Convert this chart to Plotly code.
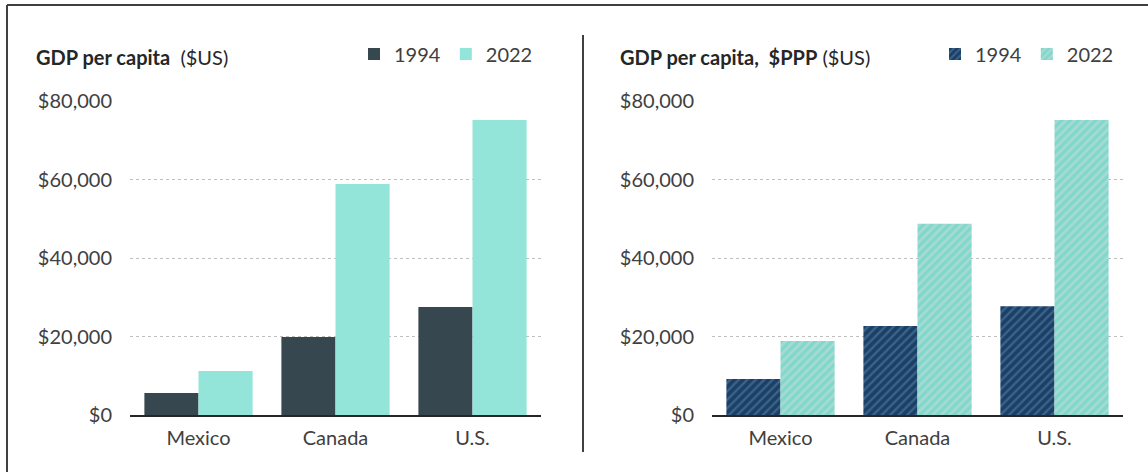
import plotly.graph_objects as go

countries = ["Mexico", "Canada", "U.S."]
gdp_1994 = [5600, 19900, 27500]
gdp_2022 = [11200, 58850, 75150]
ppp_1994 = [9200, 22700, 27700]
ppp_2022 = [18850, 48700, 75150]
years = ["1994", "2022"]
tick_vals = [0, 20000, 40000, 60000, 80000]
tick_text = ["$0", "$20,000", "$40,000", "$60,000", "$80,000"]

FONT = "Lato"
TXT = "#404040"
DARK = "#37474F"
MINT = "#93E5D9"
NAVY = "#1B3F66"
NAVY_FG = "#5A88AA"
MINT_FG = "#D3DAD8"
MINT_BG = "#7ED9CC"
FS = 20

fig = go.Figure()
fig.add_trace(go.Bar(x=countries, y=gdp_1994, name=years[0], marker_color=DARK,
                     xaxis="x", yaxis="y", legend="legend"))
fig.add_trace(go.Bar(x=countries, y=gdp_2022, name=years[1], marker_color=MINT,
                     xaxis="x", yaxis="y", legend="legend"))
fig.add_trace(go.Bar(x=countries, y=ppp_1994, name=years[0], xaxis="x2", yaxis="y2",
                     legend="legend2",
                     marker=dict(color=NAVY, pattern=dict(shape="/", fgcolor=NAVY_FG,
                                 bgcolor=NAVY, size=6, solidity=0.4, fillmode="overlay"))))
fig.add_trace(go.Bar(x=countries, y=ppp_2022, name=years[1], xaxis="x2", yaxis="y2",
                     legend="legend2",
                     marker=dict(color=MINT_BG, pattern=dict(shape="/", fgcolor=MINT_FG,
                                 bgcolor=MINT_BG, size=6, solidity=0.45, fillmode="overlay"))))

W, H = 1148, 472
ydom = [(H - 415) / H, (H - 101) / H]
xdom1 = [130 / W, 541 / W]
xdom2 = [712 / W, 1123 / W]

yax = dict(range=[0, 80000], tickvals=tick_vals, ticktext=tick_text, showgrid=True,
           gridcolor="#BFBFBF", griddash="dot", gridwidth=1, zeroline=False,
           showline=False, ticks="", ticklabelstandoff=17, automargin=False,
           tickfont=dict(family=FONT, size=FS, color=TXT), domain=ydom, fixedrange=True)
xax = dict(showline=True, linecolor="#262626", linewidth=1.5, ticks="", automargin=False,
           tickfont=dict(family=FONT, size=FS, color=TXT), ticklabelstandoff=4, fixedrange=True)

fig.update_layout(
    template="none",
    width=W, height=H, autosize=False,
    margin=dict(l=0, r=0, t=0, b=0, pad=0, autoexpand=False),
    paper_bgcolor="white", plot_bgcolor="white",
    barmode="group", bargap=0.21, bargroupgap=0,
    font=dict(family=FONT, color=TXT),
    xaxis=dict(domain=xdom1, anchor="y", **xax),
    yaxis=dict(anchor="x", **yax),
    xaxis2=dict(domain=xdom2, anchor="y2", **xax),
    yaxis2=dict(anchor="x2", **yax),
    legend=dict(orientation="h", x=538 / W, xanchor="right", y=(H - 54) / H, yanchor="middle",
                font=dict(family=FONT, size=FS, color=TXT), itemwidth=30,
                bgcolor="rgba(0,0,0,0)", traceorder="normal"),
    legend2=dict(orientation="h", x=1119 / W, xanchor="right", y=(H - 54) / H, yanchor="middle",
                 font=dict(family=FONT, size=FS, color=TXT), itemwidth=30,
                 bgcolor="rgba(0,0,0,0)", traceorder="normal"),
    showlegend=True,
)

fig.add_annotation(xref="paper", yref="paper", x=34 / W, y=(H - 57) / H,
                   xanchor="left", yanchor="middle", showarrow=False,
                   text="<b>GDP per capita</b>  ($US)",
                   font=dict(family=FONT, size=FS, color="#262626"))
fig.add_annotation(xref="paper", yref="paper", x=618 / W, y=(H - 57) / H,
                   xanchor="left", yanchor="middle", showarrow=False,
                   text="<b>GDP per capita,  $PPP</b> ($US)",
                   font=dict(family=FONT, size=FS, color="#262626"))

# frame and separator
fig.add_shape(type="line", xref="paper", yref="paper", x0=7 / W, x1=1, y0=(H - 5) / H, y1=(H - 5) / H,
              line=dict(color="#404040", width=2))
fig.add_shape(type="line", xref="paper", yref="paper", x0=7 / W, x1=7 / W, y0=0, y1=(H - 5) / H,
              line=dict(color="#404040", width=2))
fig.add_shape(type="line", xref="paper", yref="paper", x0=583 / W, x1=583 / W,
              y0=(H - 452) / H, y1=(H - 35) / H, line=dict(color="#404040", width=2))

fig.write_html("out.html", config={"displayModeBar": False, "staticPlot": True},
               post_script="document.body.style.margin='0';document.body.style.overflow='hidden';")
